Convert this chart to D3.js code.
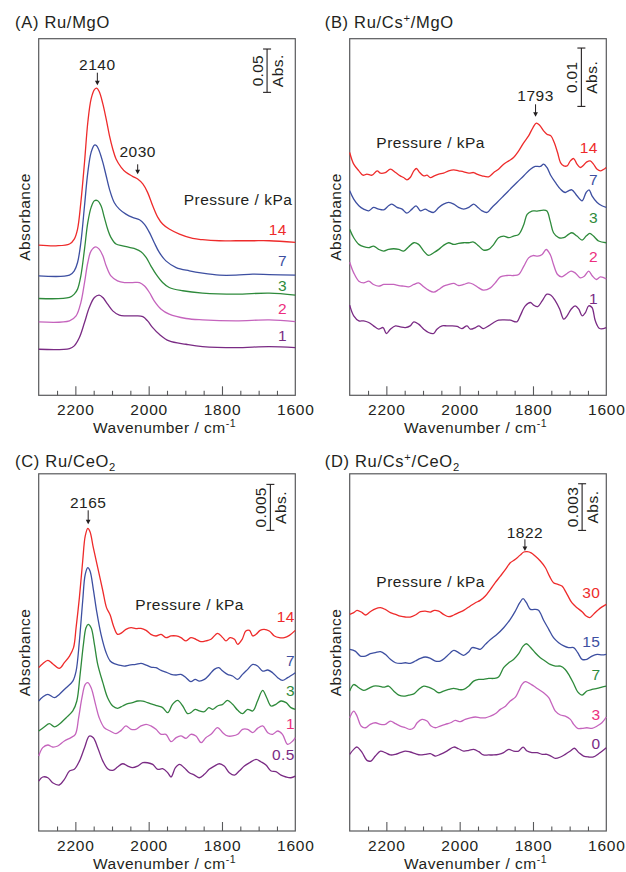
<!DOCTYPE html>
<html><head><meta charset="utf-8">
<script src="https://cdn.jsdelivr.net/npm/d3@7"></script>
<style>
body{margin:0;background:#fff}
svg{display:block}
text{font-family:"Liberation Sans",Arial,Helvetica,sans-serif;fill:#231f20}
</style>
</head><body>
<svg id="chart" width="626" height="872"></svg>
<script>
// ---------------- DATA (wavenumber cm-1, absorbance in mAbs relative to each trace's baseline) ----------------
const xDomain = [2300, 1600];
const majorTicks = [2200, 2000, 1800];
const minorTicks = [2250, 2150, 2100, 2050, 1950, 1900, 1850, 1750, 1700, 1650];
const tickLabels = [2200, 2000, 1800, 1600];
const seriesColors = ["#ee2b2b", "#3d4fa1", "#2e8a3b", "#c564bd", "#7a2b84"];
const labelColors  = ["#ee2b2b", "#3d4fa1", "#2e8a3b", "#ec2e7e", "#7a2b84"];

// Panel A  Ru/MgO
const A_pressures = ["14", "7", "3", "2", "1"];
const A_offsets = [173.3, 137.8, 111.7, 84.7, 53.1];
const A_14 = [[2300,0],[2253,-0.8],[2216,1.2],[2203,6.9],[2194,18.5],[2185,49.3],[2175,95.5],[2166,141.7],[2157,168.6],[2148,179.4],[2142,181.0],[2135,177.1],[2125,162.9],[2116,145.5],[2107,126.3],[2098,110.9],[2089,99.3],[2075,89.7],[2062,83.9],[2044,79.3],[2030,76.2],[2016,70.5],[2003,60.8],[1989,45.4],[1975,32.0],[1962,24.3],[1944,18.5],[1916,12.7],[1880,7.7],[1853,6.2],[1807,5.0],[1762,5.0],[1716,5.0],[1671,5.0],[1600,3.1]];
const A_7 = [[2300,0],[2216,0.8],[2203,5.8],[2194,15.4],[2185,38.5],[2175,80.9],[2166,119.4],[2157,142.5],[2148,150.9],[2142,150.2],[2135,144.4],[2125,130.9],[2116,115.5],[2107,100.1],[2094,84.7],[2080,77.0],[2062,71.2],[2044,67.4],[2025,64.7],[2012,59.7],[1998,50.1],[1985,38.5],[1971,27.0],[1953,17.3],[1925,9.6],[1889,5.8],[1853,3.1],[1807,0.8],[1762,0.8],[1716,1.9],[1671,1.5],[1600,0.8]];
const A_3 = [[2300,0],[2216,1.2],[2203,5.0],[2194,10.8],[2185,26.2],[2175,57.0],[2166,87.8],[2157,105.1],[2148,112.8],[2139,112.8],[2130,107.0],[2121,93.6],[2112,80.1],[2103,70.5],[2089,62.8],[2071,60.8],[2053,58.9],[2035,57.0],[2021,53.9],[2007,47.4],[1994,37.7],[1980,28.1],[1962,18.5],[1944,12.7],[1907,8.9],[1853,6.2],[1762,5.0],[1671,6.2],[1600,3.9]];
const A_2 = [[2300,0],[2216,1.2],[2198,6.9],[2185,22.3],[2175,45.4],[2166,68.5],[2157,82.0],[2144,86.6],[2135,83.9],[2125,76.2],[2116,64.7],[2103,53.1],[2085,47.4],[2066,45.4],[2044,45.4],[2025,45.4],[2012,41.6],[1998,33.9],[1985,24.3],[1966,14.6],[1944,8.9],[1898,3.9],[1853,2.3],[1762,1.2],[1671,2.3],[1600,0.4]];
const A_1 = [[2300,0],[2216,0.8],[2203,3.9],[2189,13.5],[2175,30.8],[2162,48.1],[2148,59.7],[2135,62.4],[2125,59.7],[2112,52.0],[2098,44.3],[2080,39.3],[2062,38.5],[2035,38.5],[2016,37.7],[2003,32.7],[1989,25.0],[1971,17.3],[1944,9.6],[1898,5.8],[1853,3.1],[1762,1.9],[1671,3.1],[1600,1.9]];

// Panel B  Ru/Cs+/MgO
const B_pressures = ["14", "7", "3", "2", "1"];
const B_offsets = [37.6, 31.9, 25.0, 18.7, 11.9];
const B_14 = [[2300,4.0],[2289,2.0],[2275,0.86],[2264,0.11],[2253,0.29],[2239,0.11],[2225,0.86],[2216,0.46],[2203,0.57],[2189,1.14],[2175,0.57],[2162,0],[2153,-0.29],[2144,-0.69],[2135,-0.29],[2125,0.86],[2118,1.26],[2109,0.57],[2098,0],[2089,0.11],[2080,-0.29],[2069,0],[2057,0.29],[2044,0.46],[2030,0.86],[2016,1.03],[2003,0.86],[1989,0.69],[1975,0.46],[1962,0.57],[1953,0.29],[1939,0],[1921,-0.17],[1907,0.57],[1894,1.14],[1880,2.0],[1866,2.57],[1853,3.14],[1839,4.28],[1825,5.71],[1812,6.85],[1800,8.28],[1791,9.02],[1782,8.68],[1771,7.71],[1762,7.14],[1751,6.85],[1742,5.71],[1733,4.0],[1725,2.28],[1716,1.71],[1707,1.71],[1698,2.57],[1689,2.97],[1680,2.0],[1671,1.43],[1662,1.83],[1653,2.40],[1644,2.57],[1635,2.0],[1625,1.14],[1616,0.86],[1600,1.43]];
const B_7 = [[2300,3.14],[2289,1.71],[2275,0.57],[2262,0],[2248,-0.29],[2235,0.29],[2221,0],[2207,-0.11],[2194,0.57],[2185,0.86],[2171,0.29],[2157,0],[2144,-0.69],[2130,0],[2119,0.57],[2107,-0.29],[2094,0],[2085,-0.29],[2071,-0.57],[2057,0.29],[2044,0.86],[2030,1.14],[2016,0.86],[2003,0.29],[1989,0],[1975,0.29],[1962,0.86],[1953,0.46],[1939,-0.29],[1925,-0.57],[1912,0.29],[1898,1.14],[1880,2.28],[1862,3.43],[1844,4.57],[1825,5.71],[1807,6.85],[1794,7.31],[1780,7.31],[1771,7.71],[1762,7.14],[1751,5.71],[1739,4.57],[1725,3.43],[1712,2.85],[1703,3.14],[1694,3.31],[1680,2.28],[1666,1.43],[1655,2.85],[1647,3.31],[1639,2.28],[1625,1.14],[1612,0.57],[1600,0.29]];
const B_3 = [[2300,3.43],[2289,2.0],[2275,0.86],[2262,0.46],[2248,0.29],[2235,0.57],[2221,0],[2207,-0.29],[2194,0],[2180,0.11],[2166,0],[2153,-0.29],[2139,0.46],[2125,1.14],[2112,0.86],[2098,-0.29],[2085,-1.03],[2071,-0.57],[2057,0],[2044,0.69],[2030,1.14],[2016,0.86],[2003,1.03],[1989,1.14],[1975,1.14],[1962,1.26],[1948,0.57],[1935,-0.11],[1921,0],[1907,0.86],[1894,2.0],[1880,2.28],[1866,2.0],[1853,2.28],[1839,2.57],[1825,4.28],[1816,6.0],[1803,6.57],[1789,6.57],[1771,6.74],[1762,6.57],[1753,4.85],[1744,2.85],[1730,2.0],[1716,2.0],[1703,2.57],[1694,2.85],[1680,2.28],[1666,1.60],[1655,2.28],[1645,2.74],[1635,2.28],[1621,1.43],[1600,1.14]];
const B_2 = [[2300,4.11],[2289,2.28],[2275,0.86],[2262,0.57],[2248,0.86],[2235,0.29],[2221,0],[2207,0.29],[2194,0.29],[2180,0.29],[2166,0.11],[2153,0],[2139,-0.11],[2125,0.29],[2112,0.57],[2098,-0.11],[2085,-0.69],[2071,-1.03],[2057,-0.57],[2044,0],[2030,0.29],[2016,0.46],[2003,0.11],[1989,0.29],[1975,0.57],[1962,0.29],[1948,-0.29],[1935,-0.69],[1916,-0.29],[1903,0.57],[1889,1.60],[1871,1.83],[1853,1.83],[1839,2.0],[1825,3.43],[1812,4.85],[1800,5.25],[1787,5.14],[1775,5.42],[1764,6.28],[1753,5.42],[1744,3.71],[1733,2.0],[1721,1.60],[1707,2.17],[1696,2.57],[1685,2.28],[1671,1.43],[1660,1.71],[1648,2.57],[1639,1.83],[1627,1.14],[1616,1.60],[1600,1.26]];
const B_1 = [[2300,3.54],[2289,1.71],[2275,0.86],[2262,0.86],[2248,0.57],[2235,0],[2221,-0.57],[2209,-0.29],[2200,-1.31],[2189,-0.57],[2175,0],[2162,-0.17],[2148,-0.29],[2135,0],[2125,0.69],[2112,0.29],[2098,-0.57],[2085,-1.14],[2071,-1.31],[2062,-0.57],[2048,0],[2035,0],[2021,0],[2007,-0.11],[1994,-0.46],[1980,0],[1971,-0.57],[1957,-0.29],[1948,0],[1935,-0.46],[1921,0],[1907,0.57],[1894,0.97],[1880,1.03],[1862,0.97],[1844,0.69],[1835,1.71],[1821,3.43],[1807,4.0],[1798,3.54],[1787,3.31],[1775,4.28],[1762,5.42],[1751,5.25],[1739,4.28],[1727,2.85],[1716,1.14],[1707,1.71],[1696,2.85],[1685,3.43],[1675,2.85],[1666,1.71],[1657,2.28],[1648,3.43],[1639,3.14],[1630,0.86],[1618,-0.46],[1600,-0.29]];

// Panel C  Ru/CeO2
const C_pressures = ["14", "7", "3", "1", "0.5"];
const C_offsets = [21.38, 17.39, 13.77, 10.51, 6.88];
const C_14 = [[2300,-3.62],[2289,-3.19],[2275,-2.83],[2262,-3.19],[2244,-3.70],[2230,-3.08],[2216,-2.36],[2205,-1.45],[2198,0.72],[2189,3.99],[2180,7.97],[2173,10.69],[2166,11.52],[2160,11.16],[2151,9.42],[2139,7.25],[2125,4.71],[2115,2.90],[2105,2.10],[2096,0.91],[2085,0],[2073,0.18],[2062,0.54],[2048,0.72],[2035,0.62],[2021,0.65],[2007,0.43],[1994,0],[1980,-0.18],[1966,0],[1953,-0.36],[1939,-0.18],[1925,-0.18],[1912,-0.36],[1898,-0.72],[1885,-0.36],[1871,-0.54],[1857,-0.80],[1844,-0.72],[1830,-0.54],[1812,0.11],[1798,-0.36],[1789,-0.72],[1778,-0.36],[1766,-0.54],[1757,-1.09],[1745,-0.54],[1735,0.36],[1725,0.43],[1716,-0.18],[1707,0],[1696,0.43],[1685,0.54],[1671,0.36],[1657,-0.18],[1644,-0.36],[1630,-0.36],[1616,-0.11],[1600,0.43]];
const C_7 = [[2300,-3.26],[2289,-2.83],[2275,-2.54],[2257,-2.90],[2244,-2.54],[2225,-1.81],[2207,-1.09],[2198,0],[2189,3.26],[2180,7.61],[2173,10.51],[2166,11.23],[2160,10.87],[2151,8.88],[2142,6.52],[2130,3.99],[2116,1.99],[2105,1.09],[2094,0.80],[2080,0.65],[2066,0.54],[2053,0.65],[2035,0.72],[2021,0.83],[2007,0.65],[1994,0.43],[1980,0.36],[1966,0.07],[1953,-0.11],[1939,-0.36],[1925,-0.43],[1912,-0.36],[1898,-0.72],[1885,-1.16],[1873,-0.91],[1862,-1.09],[1848,-0.91],[1835,-0.43],[1821,0.18],[1809,0.36],[1798,0],[1785,-0.36],[1771,-0.54],[1757,-0.91],[1744,-0.36],[1730,0.18],[1716,0.72],[1703,0.54],[1689,0],[1675,0.11],[1662,-0.18],[1648,-0.72],[1635,-1.01],[1621,-0.72],[1600,-0.18]];
const C_3 = [[2300,-2.90],[2285,-2.46],[2271,-2.10],[2257,-2.46],[2244,-2.17],[2225,-1.45],[2207,-0.72],[2196,0.36],[2187,3.26],[2178,6.52],[2171,8.33],[2165,8.70],[2157,8.33],[2148,6.52],[2139,4.35],[2125,2.36],[2112,0.72],[2098,-0.18],[2085,-0.43],[2071,-0.18],[2057,0.07],[2044,0.18],[2030,0.36],[2016,0.36],[2003,0.18],[1989,0],[1975,-0.18],[1962,-0.36],[1948,-0.91],[1935,0],[1921,0.43],[1907,-0.18],[1894,-1.01],[1885,-0.91],[1873,-0.54],[1862,-0.72],[1848,-0.80],[1836,-0.36],[1825,-0.54],[1812,-0.18],[1798,0],[1785,0.43],[1771,0],[1757,-0.65],[1744,-1.01],[1730,-0.54],[1716,-0.72],[1703,0.36],[1689,1.52],[1678,0.72],[1666,-0.18],[1653,0],[1639,0.36],[1625,0.18],[1612,-0.36],[1600,-0.54]];
const C_1 = [[2300,-2.36],[2289,-1.45],[2275,-1.16],[2262,-1.38],[2248,-1.27],[2230,-0.72],[2212,-0.36],[2200,0],[2191,1.81],[2182,3.99],[2173,5.43],[2166,5.62],[2157,5.07],[2145,3.26],[2135,1.81],[2121,0.72],[2105,0.36],[2089,0.07],[2075,0.43],[2062,0.91],[2048,0.54],[2035,0.54],[2021,0.91],[2007,1.09],[1994,0.91],[1980,0.54],[1966,0],[1953,0],[1939,-0.80],[1925,-0.36],[1912,-0.18],[1898,-0.43],[1885,0],[1871,-0.18],[1857,-0.91],[1844,-0.36],[1830,0],[1812,0.72],[1798,0.18],[1785,-0.18],[1771,-0.18],[1757,0],[1744,0.54],[1730,0.54],[1716,0.18],[1703,0.65],[1689,0.91],[1675,0.18],[1662,0],[1648,0.36],[1635,0],[1621,-1.09],[1607,-0.72],[1600,-0.36]];
const C_05 = [[2300,-1.45],[2289,-1.01],[2275,-1.09],[2262,-1.63],[2244,-1.88],[2230,-1.27],[2216,-0.36],[2203,-0.18],[2189,0.72],[2175,2.17],[2162,3.44],[2151,3.26],[2139,2.17],[2125,0.72],[2112,-0.11],[2098,-0.29],[2085,0.07],[2071,0.43],[2057,0.18],[2044,0],[2030,0.18],[2016,0.54],[2003,0.54],[1989,0.36],[1975,-0.18],[1962,-0.11],[1948,-0.54],[1939,-1.01],[1927,0],[1916,0.36],[1903,0],[1889,-0.54],[1875,-0.80],[1862,-1.09],[1848,-0.72],[1835,-0.18],[1821,0.18],[1807,0.43],[1794,0.18],[1780,-0.54],[1766,-0.80],[1753,-0.36],[1739,0.18],[1725,0.54],[1707,0.91],[1694,0.65],[1680,0.29],[1666,-0.36],[1653,-0.43],[1639,-0.80],[1625,-1.01],[1612,-1.09],[1600,-0.91]];

// Panel D  Ru/Cs+/CeO2
const D_pressures = ["30", "15", "7", "3", "0"];
const D_offsets = [13.93, 11.36, 9.21, 7.07, 4.93];
const D_30 = [[2300,0],[2289,0.11],[2280,0.26],[2266,0.11],[2257,-0.04],[2244,0.17],[2230,0.36],[2216,0.43],[2203,0.32],[2189,0.11],[2175,0],[2162,-0.11],[2148,-0.17],[2135,-0.17],[2121,-0.04],[2107,0.17],[2094,0.21],[2080,0.15],[2069,0.26],[2057,0.21],[2044,0],[2030,-0.15],[2016,-0.04],[2003,0.11],[1989,0.26],[1971,0.54],[1957,0.75],[1944,0.90],[1930,1.18],[1916,1.61],[1903,2.04],[1889,2.46],[1875,2.89],[1862,3.32],[1848,3.54],[1835,3.81],[1825,4.01],[1816,4.03],[1805,3.96],[1794,3.75],[1780,3.43],[1766,3.0],[1755,2.46],[1744,2.04],[1732,1.93],[1721,1.82],[1707,1.29],[1694,0.75],[1680,0.43],[1666,0.17],[1655,-0.11],[1645,-0.21],[1635,0],[1621,0.32],[1600,0.64]];
const D_15 = [[2300,0.32],[2285,0.21],[2271,-0.11],[2257,-0.11],[2244,0.04],[2230,0.11],[2216,0.17],[2203,0],[2189,-0.32],[2175,-0.54],[2162,-0.58],[2148,-0.54],[2135,-0.58],[2121,-0.43],[2107,-0.26],[2094,-0.17],[2080,-0.26],[2066,-0.43],[2053,-0.43],[2039,-0.21],[2025,0.11],[2016,0.26],[2003,0.11],[1989,-0.06],[1975,0.17],[1966,0.43],[1953,0.39],[1944,0.32],[1930,0.64],[1916,0.96],[1898,1.29],[1880,1.71],[1862,2.25],[1848,2.79],[1836,3.32],[1827,3.58],[1818,3.32],[1807,2.89],[1796,2.89],[1785,2.83],[1771,2.19],[1757,1.61],[1744,1.07],[1730,0.75],[1716,0.54],[1703,0.43],[1689,0.43],[1678,0.11],[1666,-0.32],[1653,-0.32],[1639,-0.11],[1625,0],[1612,-0.04],[1600,0]];
const D_7 = [[2300,-0.21],[2289,0.21],[2275,0],[2262,-0.17],[2248,-0.04],[2235,0.11],[2221,0.11],[2207,0.04],[2194,0.11],[2180,-0.21],[2166,-0.47],[2153,-0.54],[2139,-0.47],[2125,-0.39],[2112,-0.11],[2098,0.11],[2085,0.04],[2071,-0.11],[2057,-0.32],[2044,-0.21],[2030,-0.11],[2016,-0.04],[2003,-0.11],[1989,-0.11],[1975,0.11],[1962,0.43],[1948,0.54],[1935,0.54],[1921,0.60],[1907,0.60],[1894,0.69],[1880,1.29],[1866,1.61],[1853,1.82],[1839,2.19],[1827,2.68],[1818,2.83],[1807,2.61],[1794,2.25],[1780,1.93],[1766,1.71],[1753,1.50],[1739,1.39],[1725,1.39],[1712,1.18],[1700,0.75],[1689,0.26],[1678,-0.26],[1666,-0.47],[1653,-0.21],[1639,-0.11],[1625,-0.04],[1612,0.04],[1600,0.11]];
const D_3 = [[2300,0.21],[2289,0.64],[2280,0.32],[2269,-0.32],[2257,-0.43],[2244,-0.21],[2230,-0.11],[2216,-0.21],[2203,-0.21],[2189,0],[2175,-0.17],[2162,-0.32],[2148,-0.43],[2135,-0.54],[2125,-0.43],[2116,-0.11],[2103,0.11],[2089,0],[2078,-0.32],[2066,-0.43],[2053,-0.32],[2039,-0.21],[2025,-0.11],[2012,0.04],[1998,-0.04],[1985,0.11],[1971,0.21],[1957,0.26],[1944,0.21],[1930,0.21],[1916,0.32],[1903,0.47],[1889,0.75],[1875,0.96],[1862,1.29],[1848,1.54],[1839,1.93],[1830,2.36],[1821,2.53],[1812,2.46],[1798,2.25],[1785,2.04],[1771,1.82],[1757,1.50],[1748,1.07],[1739,0.64],[1725,0.39],[1712,0.32],[1698,0.11],[1689,-0.21],[1678,-0.47],[1666,-0.47],[1653,-0.43],[1639,-0.47],[1625,-0.32],[1612,-0.11],[1600,0.26]];
const D_0 = [[2300,0],[2289,0.32],[2280,0.47],[2266,0.11],[2253,-0.39],[2242,-0.43],[2230,-0.11],[2216,0.21],[2203,0.11],[2189,-0.04],[2175,0],[2162,0.11],[2148,0.21],[2135,0.15],[2121,0.04],[2107,-0.04],[2094,0],[2080,0.04],[2066,-0.11],[2053,0],[2035,0.21],[2016,0.47],[2003,0.36],[1989,0.21],[1975,0.26],[1962,0.32],[1948,0.17],[1935,-0.04],[1921,-0.04],[1907,-0.04],[1894,0],[1880,0.11],[1866,0.32],[1853,0.21],[1839,0.21],[1827,0.47],[1816,0.21],[1803,0.11],[1789,0.11],[1775,0],[1762,0],[1751,-0.11],[1739,-0.26],[1725,-0.17],[1712,0],[1698,0.21],[1687,0.39],[1675,0.11],[1662,-0.11],[1648,-0.17],[1635,-0.17],[1621,0.04],[1600,0.43]];

// Scale bars (mAbs) and peak annotations (cm-1)
const scaleBarValues = ["0.05", "0.01", "0.005", "0.003"];
const peaksA = [2140, 2030];
const peaksB = [1793];
const peaksC = [2165];
const peaksD = [1822];

// ---------------- LAYOUT ----------------
const panels = [
  {title:[["(A) Ru/MgO"]], tx:15, ty:28.3, left:38.7, top:38.7, w:256.6, h:356.6, yMax:411.4,
   series:[A_14,A_7,A_3,A_2,A_1], offsets:A_offsets, labels:A_pressures,
   labelX:287, labelY:[235.2,266,291.3,314,341], press:[183.7,205],
   bar:{wn:1677, lo:349.5, hi:399.5, txt:scaleBarValues[0]},
   peaks:peaksA, peakText:[70.3,156.7], arrow:[[72.7,85.3],[164.3,174.3]]},
  {title:[["(B) Ru/Cs"],["+","sup"],["/MgO"]], tx:324.7, ty:28.3, left:349.7, top:38.7, w:256.6, h:356.6, yMax:61.1,
   series:[B_14,B_7,B_3,B_2,B_1], offsets:B_offsets, labels:B_pressures,
   labelX:598, labelY:[152.7,185.3,222.7,262,304.3], press:[376.3,147.7],
   bar:{wn:1668, lo:49.5, hi:59.5, txt:scaleBarValues[1]},
   peaks:peaksB, peakText:[101], arrow:[[104.3,116.7]]},
  {title:[["(C) Ru/CeO"],["2","sub"]], tx:15, ty:466.5, left:38.7, top:473.8, w:256.6, h:357.2, yMax:38.83,
   series:[C_14,C_7,C_3,C_1,C_05], offsets:C_offsets, labels:C_pressures,
   labelX:295, labelY:[621.5,666,696,729.3,760.3], press:[135.3,610.3],
   bar:{wn:1668, lo:32.68, hi:37.68, txt:scaleBarValues[2]},
   peaks:peaksC, peakText:[507.7], arrow:[[510.3,524.3]]},
  {title:[["(D) Ru/Cs"],["+","sup"],["/CeO"],["2","sub"]], tx:324.7, ty:466.5, left:349.7, top:473.8, w:256.6, h:357.2, yMax:22.97,
   series:[D_30,D_15,D_7,D_3,D_0], offsets:D_offsets, labels:D_pressures,
   labelX:600.5, labelY:[598.3,647,680,720,749.3], press:[376.3,587],
   bar:{wn:1666, lo:19.33, hi:22.33, txt:scaleBarValues[3]},
   peaks:peaksD, peakText:[537.7], arrow:[[539.3,551]]}
];

const svg = d3.select("#chart");
const FS = 15.5;
const LS = "0.5px";

function richText(g, parts, x, y, size, anchor, ls) {
  const t = g.append("text").attr("x", x).attr("y", y).attr("font-size", size)
    .style("letter-spacing", ls || LS).attr("text-anchor", anchor || "start");
  let shift = 0;
  parts.forEach(p => {
    const ts = t.append("tspan").text(p[0]);
    if (p[1] === "sup") { ts.attr("font-size", size*0.68).attr("dy", -6 - shift); shift = -6; }
    else if (p[1] === "sub") { ts.attr("font-size", size*0.68).attr("dy", 4 - shift); shift = 4; }
    else if (shift !== 0) { ts.attr("dy", -shift); shift = 0; }
  });
  return t;
}

panels.forEach(p => {
  const g = svg.append("g");
  const x = d3.scaleLinear().domain(xDomain).range([p.left, p.left + p.w]);
  const y = d3.scaleLinear().domain([0, p.yMax]).range([p.top + p.h, p.top]);
  const bottom = p.top + p.h;

  // title
  richText(g, p.title, p.tx, p.ty, 16.5, "start", "0.7px");

  // ticks (inward)
  const axMajor = d3.axisBottom(x).tickValues(majorTicks).tickSize(-9).tickFormat("");
  const axMinor = d3.axisBottom(x).tickValues(minorTicks).tickSize(-4.5).tickFormat("");
  [axMajor, axMinor].forEach(ax => {
    const a = g.append("g").attr("transform", `translate(0,${bottom})`).call(ax);
    a.select(".domain").remove();
    a.selectAll("line").attr("stroke", "#58595b").attr("stroke-width", 1.1);
  });
  const axLab = d3.axisBottom(x).tickValues(tickLabels).tickSize(0).tickFormat(d3.format("d"));
  const al = g.append("g").attr("transform", `translate(0,${bottom})`).call(axLab);
  al.select(".domain").remove();
  al.selectAll("text").attr("y", 20).attr("dy", 0).attr("font-size", FS)
    .style("letter-spacing", "0.8px").attr("fill", "#231f20")
    .attr("font-family", '"Liberation Sans",Arial,Helvetica,sans-serif');

  // frame
  g.append("rect").attr("x", p.left).attr("y", p.top).attr("width", p.w).attr("height", p.h)
    .attr("fill", "none").attr("stroke", "#58595b").attr("stroke-width", 1.2);

  // axis titles
  richText(g, [["Wavenumber / cm"],["-1","sup"]], p.left + p.w/2 - 2.5, bottom + 37.5, FS, "middle");
  g.append("text").attr("transform", `translate(${p.left - 8.5},${p.top + p.h/2}) rotate(-90)`)
    .attr("text-anchor", "middle").attr("font-size", FS).style("letter-spacing", LS).text("Absorbance");

  // spectra
  const line = d3.line().x(d => x(d[0])).curve(d3.curveCatmullRom.alpha(0.5));
  for (let i = p.series.length - 1; i >= 0; i--) {
    const off = p.offsets[i];
    g.append("path").datum(p.series[i])
      .attr("d", line.y(d => y(d[1] + off)))
      .attr("fill", "none").attr("stroke", seriesColors[i]).attr("stroke-width", 1.3)
      .attr("stroke-linejoin", "round");
  }

  // pressure labels
  p.labels.forEach((lab, i) => {
    g.append("text").attr("x", p.labelX).attr("y", p.labelY[i]).attr("text-anchor", "end")
      .attr("font-size", FS).style("letter-spacing", LS).style("fill", labelColors[i]).text(lab);
  });
  g.append("text").attr("x", p.press[0]).attr("y", p.press[1]).attr("font-size", FS)
    .style("letter-spacing", LS).text("Pressure / kPa");

  // peak annotations
  p.peaks.forEach((wn, i) => {
    const px = x(wn);
    g.append("text").attr("x", px).attr("y", p.peakText[i]).attr("text-anchor", "middle")
      .attr("font-size", FS).style("letter-spacing", LS).text(String(wn));
    const [a0, a1] = p.arrow[i];
    g.append("line").attr("x1", px).attr("x2", px).attr("y1", a0).attr("y2", a1 - 2)
      .attr("stroke", "#231f20").attr("stroke-width", 1);
    g.append("path").attr("d", `M${px-2.4},${a1-4.5}L${px+2.4},${a1-4.5}L${px},${a1}Z`).attr("fill", "#231f20");
  });

  // scale bar
  const bx = x(p.bar.wn), b0 = y(p.bar.lo), b1 = y(p.bar.hi), bm = (b0 + b1)/2;
  g.append("line").attr("x1", bx).attr("x2", bx).attr("y1", b0).attr("y2", b1).attr("stroke", "#231f20").attr("stroke-width", 1.1);
  [b0, b1].forEach(yy => g.append("line").attr("x1", bx - 4).attr("x2", bx + 4).attr("y1", yy).attr("y2", yy)
    .attr("stroke", "#231f20").attr("stroke-width", 1.1));
  g.append("text").attr("transform", `translate(${bx - 4},${bm}) rotate(-90)`).attr("text-anchor", "middle")
    .attr("font-size", FS).style("letter-spacing", "0.3px").text(p.bar.txt);
  g.append("text").attr("transform", `translate(${bx + 15.5},${bm}) rotate(-90)`).attr("text-anchor", "middle")
    .attr("font-size", FS).style("letter-spacing", LS).text("Abs.");
});
</script>
</body></html>
